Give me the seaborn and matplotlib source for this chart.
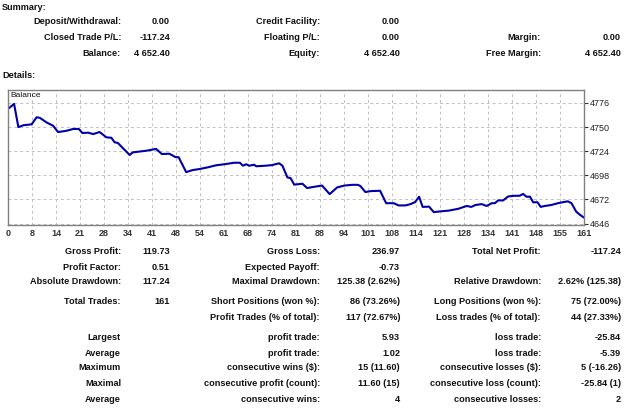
import matplotlib.pyplot as plt
import seaborn as sns
import pandas as pd
import numpy as np

# balance curve breakpoints (trade number, balance)
trade_no = [0, 1.7, 2.9, 4.3, 6.6, 8, 8.9, 10.8, 12.6, 14, 16.3, 18.2, 19.8, 20.8, 22.4,
            23.8, 25.6, 27.5, 28.9, 29.8, 30.7, 32.1, 34, 34.9, 38.6, 41.4, 43, 45.1, 46.8,
            47.7, 49.8, 51.6, 53.5, 55.8, 58.1, 60.9, 63.2, 64.8, 65.7, 66.6, 67.4, 68.8,
            69.4, 72, 73.7, 75.8, 76.7, 78.1, 79, 80, 82.3, 83.6, 85.3, 87.8, 89.9, 92, 94,
            96.2, 97.8, 98.5, 99.9, 101.3, 104, 105.7, 107.8, 109.2, 111.1, 112.5, 113.8,
            114.9, 115.9, 117.7, 119, 120.9, 123.2, 125.9, 128.2, 129.5, 130.6, 132.4, 133.8,
            135.2, 136.1, 137, 138.4, 139.8, 141.6, 143, 144, 144.9, 145.9, 146.8, 148, 148.9,
            150, 151.8, 153.7, 155, 156.5, 157.5, 158.8, 159.7, 161]
balance = [4769.6, 4775, 4750, 4752, 4753, 4760.6, 4760, 4755, 4751.5, 4744.7, 4746, 4748,
           4748, 4743.6, 4744, 4742.5, 4744.7, 4739, 4738.5, 4733.6, 4733, 4727.4, 4720,
           4722.8, 4724.5, 4726.5, 4721, 4721.3, 4717.7, 4717.5, 4701.5, 4703.7, 4704.8,
           4706.6, 4708.8, 4710.2, 4711.6, 4711.6, 4708.4, 4710, 4708.4, 4709.4, 4707.8,
           4708.4, 4709, 4711, 4708.4, 4695.8, 4695, 4688, 4689, 4684.3, 4685.5, 4687,
           4677.8, 4685, 4687, 4687.8, 4687.8, 4686.5, 4680, 4681, 4681.4, 4668, 4668,
           4665.6, 4665.6, 4667, 4669.2, 4675, 4664, 4664.3, 4658.4, 4659.2, 4660, 4662,
           4665, 4664, 4666, 4667, 4665, 4668, 4668, 4671, 4671, 4675.3, 4676, 4676, 4678,
           4675, 4675, 4669, 4669, 4664, 4665, 4666, 4668, 4669, 4670, 4668, 4659, 4656,
           4652.4]

x_tick_labels = ['0', '8', '14', '21', '28', '34', '41', '48', '54', '61', '68', '74', '81',
                 '88', '94', '101', '108', '114', '121', '128', '134', '141', '148', '155', '161']
y_ticks = [4646, 4672, 4698, 4724, 4750, 4776]

# report tables: (row y in px, cells: label, value, label, value, label, value)
summary_rows = [
    (21, ['Deposit/Withdrawal:', '0.00', 'Credit Facility:', '0.00', '', '']),
    (38, ['Closed Trade P/L:', '-117.24', 'Floating P/L:', '0.00', 'Margin:', '0.00']),
    (54, ['Balance:', '4 652.40', 'Equity:', '4 652.40', 'Free Margin:', '4 652.40']),
]
details_rows = [
    (252, ['Gross Profit:', '119.73', 'Gross Loss:', '236.97', 'Total Net Profit:', '-117.24']),
    (267, ['Profit Factor:', '0.51', 'Expected Payoff:', '-0.73', '', '']),
    (282, ['Absolute Drawdown:', '117.24', 'Maximal Drawdown:', '125.38 (2.62%)',
           'Relative Drawdown:', '2.62% (125.38)']),
    (302, ['Total Trades:', '161', 'Short Positions (won %):', '86 (73.26%)',
           'Long Positions (won %):', '75 (72.00%)']),
    (317, ['', '', 'Profit Trades (% of total):', '117 (72.67%)',
           'Loss trades (% of total):', '44 (27.33%)']),
    (337, ['Largest', '', 'profit trade:', '5.93', 'loss trade:', '-25.84']),
    (353, ['Average', '', 'profit trade:', '1.02', 'loss trade:', '-5.39']),
    (368, ['Maximum', '', 'consecutive wins ($):', '15 (11.60)',
           'consecutive losses ($):', '5 (-16.26)']),
    (384, ['Maximal', '', 'consecutive profit (count):', '11.60 (15)',
           'consecutive loss (count):', '-25.84 (1)']),
    (399, ['Average', '', 'consecutive wins:', '4', 'consecutive losses:', '2']),
]
col_right = [121, 170, 320, 400, 541, 621]

W, H = 625, 408
sns.set_style('white')
plt.rcParams['font.family'] = ['Liberation Sans', 'DejaVu Sans']

fig = plt.figure(figsize=(W / 100, H / 100), dpi=100)
fig.patch.set_facecolor('white')

ax = fig.add_axes([8 / W, 1 - 225 / H, (584 - 8) / W, (225 - 90) / H])
df = pd.DataFrame({'trade': trade_no, 'balance': balance})
sns.lineplot(data=df, x='trade', y='balance', ax=ax, color='#0000a8', linewidth=1.5)

ax.set_xlim(0, 161)
ax.set_ylim(4644.5, 4790)
xt = np.linspace(0, 161, len(x_tick_labels))
ax.set_xticks(xt)
ax.set_xticklabels(x_tick_labels)
ax.set_yticks(y_ticks)
ax.yaxis.tick_right()
ax.tick_params(axis='y', direction='out', length=3, width=0.8, color='#333333',
               labelsize=6.5, pad=1.5, labelcolor='#222222')
ax.tick_params(axis='x', length=0, labelsize=6.5, pad=3, labelcolor='#333333')
for lab in ax.get_xticklabels():
    lab.set_fontweight('bold')
ax.grid(True, color='#c0c0c0', linestyle=(0, (3, 3)), linewidth=0.7)
for s in ax.spines.values():
    s.set_visible(True)
    s.set_color('#808080')
    s.set_linewidth(1.0)
ax.set_xlabel('')
ax.set_ylabel('')
ax.text(0.004, 0.985, 'Balance', transform=ax.transAxes, fontsize=6, va='top',
        ha='left', color='#111111')

# report text
fs = 6.6
fig.text(2 / W, 1 - 7 / H, 'Summary:', fontsize=fs, fontweight='bold', va='center',
         ha='left', color='#111111')
fig.text(2 / W, 1 - 76 / H, 'Details:', fontsize=fs, fontweight='bold', va='center',
         ha='left', color='#111111')
for y, cells in summary_rows + details_rows:
    for xr, txt in zip(col_right, cells):
        if txt:
            fig.text(xr / W, 1 - y / H, txt, fontsize=fs, fontweight='bold',
                     va='center', ha='right', color='#111111')

fig.savefig('out.png', dpi=100)
